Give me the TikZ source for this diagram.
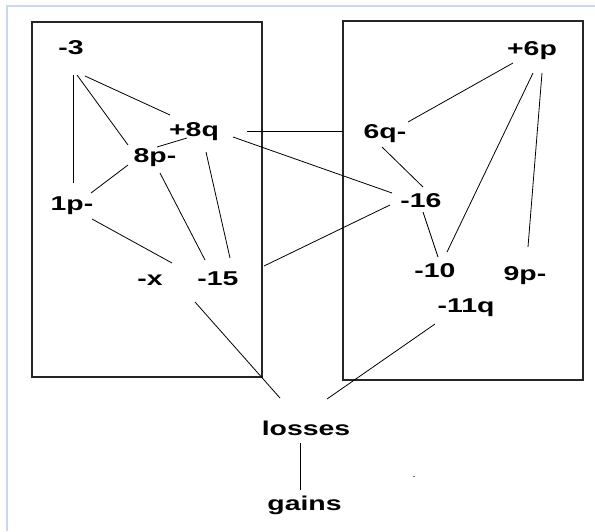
\documentclass[tikz,border=0pt]{standalone}
\usepackage{graphicx}
\usepackage{fontspec}
\setmainfont{Liberation Sans}
\usetikzlibrary{calc}
\newcommand\sx[1]{\scalebox{1.42}[1]{#1}}
\definecolor{frameblue}{RGB}{200,216,240}
\begin{document}
\begin{tikzpicture}[x=1pt,y=-1pt,
  lbl/.style={anchor=base,inner sep=0pt,font=\fontsize{20}{23}\selectfont\bfseries},
  boxline/.style={draw=black!85,line width=1.4pt},
  link/.style={draw=black,line width=0.8pt}]
\useasboundingbox (0,0) rectangle (595,531);
\fill[white] (0,0) rectangle (595,531);
% light blue frame
\draw[frameblue,line width=2pt] (7,531) -- (7,6) -- (595,6);
% boxes
\draw[boxline] (32,22) rectangle (262,377);
\draw[boxline] (343,21) rectangle (583,380);
% labels
\node[lbl] (n3)   at (71,54)   {\sx{-3}};
\node[lbl] (n8q)  at (194,136) {\sx{+8q}};
\node[lbl] (n8p)  at (155,162) {\sx{8p-}};
\node[lbl] (n1p)  at (72,210)  {\sx{1p-}};
\node[lbl] (nx)   at (150,285) {\sx{-x}};
\node[lbl] (n15)  at (218,285) {\sx{-15}};
\node[lbl] (n6p)  at (532,55)  {\sx{+6p}};
\node[lbl] (n6q)  at (385,138) {\sx{6q-}};
\node[lbl] (n16)  at (421,207) {\sx{-16}};
\node[lbl] (n10)  at (435,277) {\sx{-10}};
\node[lbl] (n9p)  at (525,280) {\sx{9p-}};
\node[lbl] (n11q) at (466,312) {\sx{-11q}};
\node[lbl] (loss) at (306,435) {\sx{losses}};
\node[lbl] (gain) at (304.5,510) {\sx{gains}};
% connectors
\draw[link] ($(n3.base)+(2,21)$) -- ($(n1p.base)+(1,-27)$);
\draw[link] ($(n3.base)+(6,21)$) -- ($(n8p.base)+(-27,-17)$);
\draw[link] ($(n3.base)+(14,22)$) -- ($(n8q.base)+(-24,-21)$);
\draw[link] ($(n8p.base)+(2,-15)$) -- ($(n8q.base)+(-7,2)$);
\draw[link] ($(n1p.base)+(19,-17)$) -- ($(n8p.base)+(-27,3)$);
\draw[link] ($(n8p.base)+(5,11)$) -- ($(n15.base)+(-13,-25)$);
\draw[link] ($(n8q.base)+(12,16)$) -- ($(n15.base)+(12,-27)$);
\draw[link] ($(n1p.base)+(20,9)$) -- ($(n15.base)+(-46,-22)$);
\draw[link] ($(n8q.base)+(53,-5)$) -- ($(n6q.base)+(-42,-7)$);
\draw[link] ($(n8q.base)+(39,1)$) -- ($(n16.base)+(-29,-14)$);
\draw[link] ($(n15.base)+(46,-19)$) -- ($(n16.base)+(-31,-2)$);
\draw[link] ($(n6q.base)+(-3,9)$) -- ($(n16.base)+(2,-20)$);
\draw[link] ($(n16.base)+(2,5)$) -- ($(n10.base)+(3,-20)$);
\draw[link] ($(n6q.base)+(23,-16)$) -- ($(n6p.base)+(-19,8)$);
\draw[link] ($(n6p.base)+(1,18)$) -- ($(n10.base)+(12,-25)$);
\draw[link] ($(n6p.base)+(10,18)$) -- ($(n9p.base)+(3,-33)$);
\draw[link] ($(n15.base)+(-23,17)$) -- ($(loss.base)+(-26,-37)$);
\draw[link] ($(n11q.base)+(-31,12)$) -- ($(loss.base)+(21,-36)$);
\draw[link] ($(loss.base)+(-6,8)$) -- ($(gain.base)+(-4.5,-20)$);
% stray dot
\fill[black!60] (412.5,476) rectangle (414.5,477.2);
\end{tikzpicture}
\end{document}
